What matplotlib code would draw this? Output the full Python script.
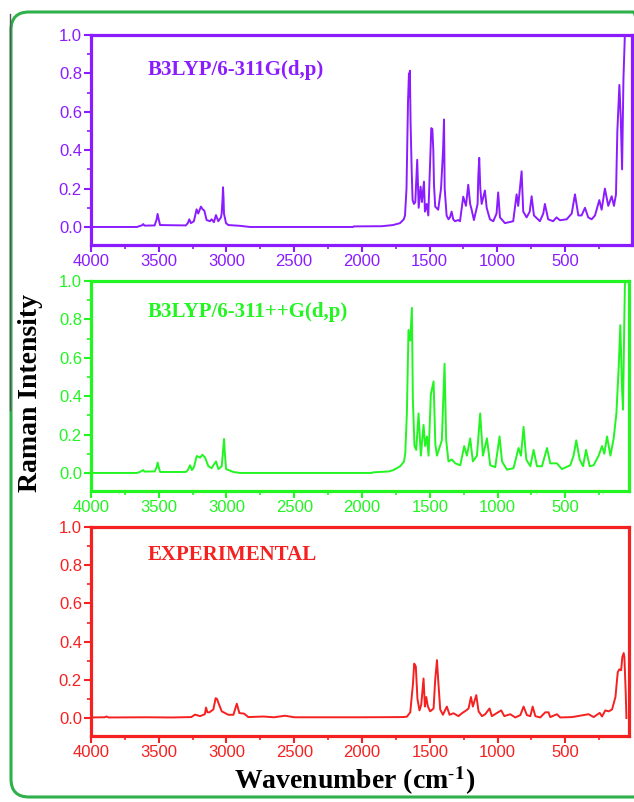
import matplotlib
matplotlib.use("Agg")
import matplotlib.pyplot as plt
from matplotlib.patches import FancyBboxPatch
from matplotlib.lines import Line2D
from matplotlib.ticker import MultipleLocator

# B3LYP/6-311G(d,p) (top, purple)
wn_311 = [4000, 3660, 3640, 3625, 3614, 3605, 3530, 3515, 3508, 3500, 3490, 3300, 3285, 3274, 3262,
          3240, 3220, 3208, 3188, 3175, 3163, 3146, 3121, 3109, 3092, 3077, 3060, 3040, 3035, 3028,
          3025, 3021, 3018, 3003, 2986, 2900, 2826, 2065, 2060, 1850, 1770, 1718, 1690, 1681, 1670,
          1664, 1659, 1652, 1648, 1645, 1640, 1632, 1625, 1615, 1605, 1591, 1580, 1566, 1556, 1541,
          1534, 1521, 1509, 1497, 1487, 1479, 1472, 1467, 1458, 1436, 1415, 1400, 1393, 1388, 1374,
          1360, 1349, 1337, 1325, 1312, 1288, 1275, 1251, 1231, 1214, 1200, 1189, 1172, 1145, 1140,
          1133, 1125, 1115, 1091, 1078, 1054, 1029, 1005, 993, 980, 943, 882, 857, 845, 820,
          808, 783, 760, 746, 729, 685, 660, 648, 624, 587, 562, 537, 487, 450, 426,
          401, 377, 352, 328, 303, 278, 246, 229, 205, 180, 155, 138, 123, 113, 98,
          88, 78, 68, 58, 50]
int_311 = [0.0, 0.0, 0.005, 0.008, 0.015, 0.007, 0.008, 0.04, 0.068, 0.04, 0.01, 0.008, 0.02, 0.04, 0.02,
           0.03, 0.092, 0.07, 0.106, 0.092, 0.085, 0.036, 0.03, 0.04, 0.025, 0.062, 0.03, 0.05, 0.07, 0.15,
           0.207, 0.15, 0.07, 0.02, 0.01, 0.006, 0.0, 0.0, 0.003, 0.004, 0.01, 0.02, 0.04, 0.06, 0.2,
           0.45, 0.65, 0.80, 0.68, 0.814, 0.55, 0.3, 0.14, 0.12, 0.13, 0.35, 0.1, 0.21, 0.13, 0.236,
           0.08, 0.12, 0.06, 0.3, 0.515, 0.51, 0.40, 0.22, 0.106, 0.09, 0.2, 0.4, 0.56, 0.2, 0.06,
           0.04, 0.05, 0.08, 0.04, 0.03, 0.036, 0.03, 0.158, 0.11, 0.22, 0.12, 0.09, 0.036, 0.12, 0.26,
           0.36, 0.2, 0.12, 0.19, 0.1, 0.04, 0.03, 0.07, 0.18, 0.05, 0.02, 0.03, 0.17, 0.11, 0.29,
           0.08, 0.05, 0.08, 0.16, 0.06, 0.03, 0.07, 0.12, 0.04, 0.03, 0.05, 0.035, 0.04, 0.07, 0.17,
           0.06, 0.06, 0.1, 0.05, 0.04, 0.06, 0.14, 0.09, 0.2, 0.11, 0.16, 0.11, 0.17, 0.5, 0.74,
           0.57, 0.3, 0.77, 0.99, 1.1]

# B3LYP/6-311++G(d,p) (middle, green)
wn_311pp = [4000, 3660, 3640, 3614, 3605, 3530, 3515, 3508, 3500, 3490, 3300, 3285, 3269, 3255, 3240,
            3220, 3195, 3178, 3158, 3134, 3109, 3097, 3077, 3060, 3035, 3025, 3018, 3012, 3003, 2949,
            2900, 1927, 1920, 1800, 1768, 1718, 1690, 1681, 1669, 1657, 1644, 1632, 1625, 1613, 1600,
            1583, 1566, 1546, 1534, 1521, 1509, 1492, 1472, 1459, 1447, 1411, 1391, 1379, 1362, 1337,
            1312, 1275, 1246, 1226, 1202, 1182, 1152, 1128, 1108, 1078, 1054, 1017, 985, 967, 930,
            882, 845, 827, 808, 788, 758, 734, 709, 672, 635, 611, 562, 525, 463, 439,
            419, 394, 369, 347, 320, 291, 254, 229, 212, 192, 167, 143, 123, 106, 94,
            81, 74, 64, 57]
int_311pp = [0.0, 0.0, 0.005, 0.015, 0.007, 0.008, 0.03, 0.054, 0.03, 0.005, 0.005, 0.015, 0.04, 0.015, 0.03,
             0.088, 0.08, 0.095, 0.08, 0.035, 0.025, 0.04, 0.06, 0.02, 0.035, 0.12, 0.177, 0.1, 0.02, 0.005,
             0.0, 0.0, 0.003, 0.008, 0.015, 0.035, 0.06, 0.1, 0.31, 0.745, 0.69, 0.86, 0.39, 0.14, 0.12,
             0.31, 0.09, 0.25, 0.14, 0.19, 0.09, 0.41, 0.477, 0.15, 0.09, 0.17, 0.569, 0.17, 0.06, 0.07,
             0.05, 0.04, 0.14, 0.09, 0.18, 0.06, 0.09, 0.31, 0.09, 0.18, 0.04, 0.03, 0.19, 0.06, 0.017,
             0.025, 0.13, 0.09, 0.24, 0.07, 0.035, 0.12, 0.035, 0.035, 0.13, 0.05, 0.05, 0.02, 0.04, 0.09,
             0.17, 0.07, 0.035, 0.12, 0.035, 0.04, 0.09, 0.14, 0.1, 0.19, 0.09, 0.18, 0.31, 0.55, 0.77,
             0.43, 0.33, 0.82, 1.1]

# experimental (bottom, red)
wn_exp = [4000, 3900, 3884, 3870, 3600, 3400, 3260, 3232, 3195, 3160, 3151, 3141, 3126, 3097, 3080,
          3070, 3060, 3035, 2986, 2949, 2924, 2905, 2870, 2839, 2728, 2650, 2568, 2500, 2000, 1700,
          1669, 1644, 1624, 1615, 1603, 1591, 1576, 1563, 1546, 1536, 1526, 1514, 1497, 1472, 1460,
          1447, 1438, 1423, 1403, 1374, 1354, 1325, 1288, 1263, 1231, 1214, 1196, 1182, 1157, 1140,
          1115, 1091, 1059, 1042, 973, 950, 906, 869, 832, 808, 783, 758, 741, 721, 685,
          648, 624, 611, 562, 537, 450, 328, 291, 246, 229, 205, 180, 155, 130, 113,
          101, 88, 79, 69, 64, 54, 49]
int_exp = [0.003, 0.004, 0.008, 0.003, 0.004, 0.003, 0.005, 0.018, 0.01, 0.02, 0.055, 0.03, 0.03, 0.045, 0.104,
           0.1, 0.08, 0.035, 0.017, 0.017, 0.075, 0.026, 0.023, 0.005, 0.008, 0.004, 0.012, 0.004, 0.004, 0.005,
           0.007, 0.03, 0.18, 0.285, 0.27, 0.1, 0.04, 0.07, 0.207, 0.06, 0.11, 0.06, 0.035, 0.05, 0.2,
           0.303, 0.2, 0.045, 0.017, 0.06, 0.017, 0.025, 0.01, 0.025, 0.04, 0.05, 0.11, 0.06, 0.12, 0.035,
           0.01, 0.02, 0.05, 0.01, 0.04, 0.01, 0.02, 0.003, 0.015, 0.06, 0.015, 0.01, 0.06, 0.01, 0.003,
           0.03, 0.03, 0.005, 0.02, 0.003, 0.005, 0.02, 0.005, 0.027, 0.008, 0.04, 0.035, 0.045, 0.11, 0.24,
           0.255, 0.25, 0.32, 0.34, 0.32, 0.13, 0.0]

titles = ["B3LYP/6-311G(d,p)", "B3LYP/6-311++G(d,p)", "EXPERIMENTAL"]
colors = ["#8A1CFF", "#22F522", "#F52020"]

plt.rcParams['font.family'] = ['Liberation Sans', 'DejaVu Sans']
plt.rcParams['mathtext.fontset'] = 'stix'

fig = plt.figure(figsize=(6.34, 8.02), dpi=100)

# green rounded frame round the whole figure
frame = FancyBboxPatch((11, 5), 640, 785, boxstyle="round,pad=0,rounding_size=18",
                       transform=None, fill=False, edgecolor="#2EB04A", linewidth=2.2)
fig.patches.append(frame)
fig.lines.append(Line2D([10 / 634, 10 / 634], [1 - 14 / 802, 1 - 410 / 802],
                        transform=fig.transFigure, color="#555555", linewidth=1.0))

# [left, bottom, width, height], xlim right end, title y
boxes = [[0.1435, 0.6945, 0.8533, 0.2618],
         [0.1435, 0.3878, 0.8486, 0.2618],
         [0.1435, 0.0823, 0.8486, 0.2606]]
xright = [5, 30, 30]
title_y = [0.833, 0.852, 0.866]
data = [(wn_311, int_311), (wn_311pp, int_311pp), (wn_exp, int_exp)]

for i in range(3):
    ax = fig.add_axes(boxes[i])
    c = colors[i]
    x, y = data[i]
    ax.plot(x, y, color=c, linewidth=1.4, clip_on=True)
    ax.set_xlim(4000, xright[i])
    ax.set_ylim(-0.094, 1.0)
    ax.xaxis.set_major_locator(MultipleLocator(500))
    ax.xaxis.set_minor_locator(MultipleLocator(250))
    ax.yaxis.set_major_locator(MultipleLocator(0.2))
    ax.yaxis.set_minor_locator(MultipleLocator(0.1))
    ax.set_yticks([0.0, 0.2, 0.4, 0.6, 0.8, 1.0])
    ax.set_yticklabels(["0.0", "0.2", "0.4", "0.6", "0.8", "1.0"])
    for s in ax.spines.values():
        s.set_color(c)
        s.set_linewidth(2.3)
    ax.tick_params(which='major', direction='out', length=5, width=1.5, color=c,
                   labelcolor=c, labelsize=12, pad=1.5)
    ax.tick_params(which='minor', direction='out', length=3, width=1.2, color=c)
    ax.text(0.105, title_y[i], titles[i], transform=ax.transAxes, color=c,
            fontsize=15, fontweight='bold', family='Liberation Serif', va='center', ha='left')

fig.text(31 / 634, 1 - 393 / 802, "Raman Intensity", rotation=90, fontsize=20,
         fontweight='bold', family='Liberation Serif', ha='center', va='center')
fig.text(355 / 634, 1 - 781 / 802, r"Wavenumber (cm$^{\text{-}\mathbf{1}}$)", fontsize=20,
         fontweight='bold', family='Liberation Serif', ha='center', va='center')

fig.savefig("out.png", dpi=100)
